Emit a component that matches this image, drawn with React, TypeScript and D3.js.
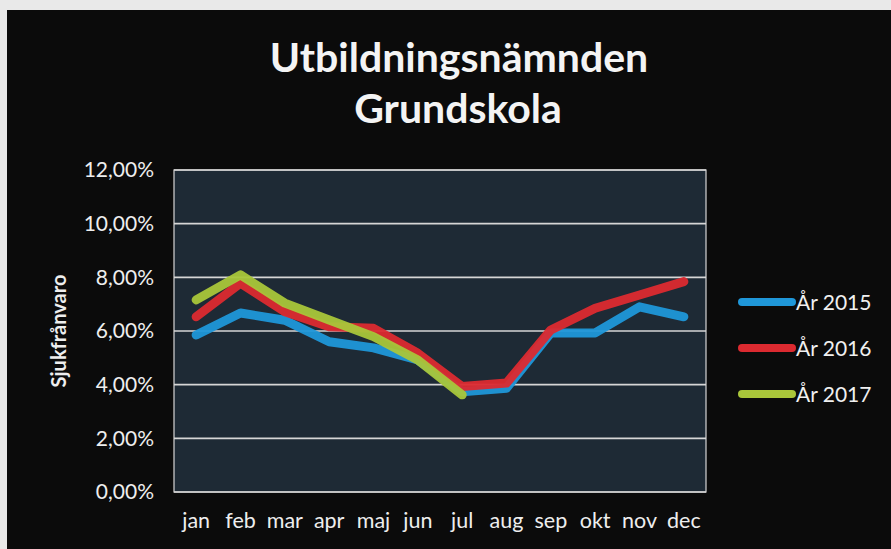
import React, { useEffect, useRef } from "react";
import * as d3 from "d3";

const months = ["jan", "feb", "mar", "apr", "maj", "jun", "jul", "aug", "sep", "okt", "nov", "dec"];
const yTicks = [0, 0.02, 0.04, 0.06, 0.08, 0.1, 0.12];
const seriesNames = ["År 2015", "År 2016", "År 2017"];
const seriesColors = ["#1f97d9", "#dc2a30", "#a9c63a"];
const values2015 = [0.0585, 0.0667, 0.064, 0.056, 0.0537, 0.0492, 0.0374, 0.0387, 0.0593, 0.0593, 0.069, 0.0653];
const values2016 = [0.0653, 0.0778, 0.0672, 0.0616, 0.061, 0.0517, 0.0393, 0.0406, 0.0604, 0.0685, 0.0734, 0.0784];
const values2017 = [0.0716, 0.0809, 0.0704, 0.0641, 0.0579, 0.0492, 0.0362];

export default function App() {
  const ref = useRef<SVGSVGElement>(null);

  useEffect(() => {
    const svg = d3.select(ref.current);
    svg.selectAll("*").remove();

    const W = 891;
    const H = 549;
    const margin = { left: 174, right: 185, top: 170, bottom: 57 };
    const width = W - margin.left - margin.right;
    const height = H - margin.top - margin.bottom;
    const font = "Lato, 'Open Sans', sans-serif";

    // page + black chart card
    svg.append("rect").attr("width", W).attr("height", H).attr("fill", "#e9e9e9");
    svg.append("rect").attr("x", 7).attr("y", 10).attr("width", W - 7).attr("height", H - 10).attr("fill", "#0b0b0b");

    svg
      .append("text")
      .attr("x", 459)
      .attr("y", 72)
      .attr("text-anchor", "middle")
      .attr("font-family", font)
      .attr("font-weight", "bold")
      .attr("font-size", "41px")
      .attr("fill", "#f4f4f4")
      .text("Utbildningsnämnden");
    svg
      .append("text")
      .attr("x", 458)
      .attr("y", 123)
      .attr("text-anchor", "middle")
      .attr("font-family", font)
      .attr("font-weight", "bold")
      .attr("font-size", "41px")
      .attr("fill", "#f4f4f4")
      .text("Grundskola");

    const g = svg.append("g").attr("transform", `translate(${margin.left},${margin.top})`);

    const x = d3.scaleBand().domain(months).range([0, width]);
    const y = d3.scaleLinear().domain([0, 0.12]).range([height, 0]);

    g.append("rect").attr("width", width).attr("height", height).attr("fill", "#1e2a35");

    g.selectAll(".grid")
      .data(yTicks)
      .enter()
      .append("line")
      .attr("class", "grid")
      .attr("x1", 0)
      .attr("x2", width)
      .attr("y1", d => y(d))
      .attr("y2", d => y(d))
      .attr("stroke", "#d6d6d6")
      .attr("stroke-width", 1.6);

    g.append("rect")
      .attr("width", width)
      .attr("height", height)
      .attr("fill", "none")
      .attr("stroke", "#d6d6d6")
      .attr("stroke-width", 1.2);

    const fmt = (d: number) => (d * 100).toFixed(2).replace(".", ",") + "%";
    const yAxis = g
      .append("g")
      .call(d3.axisLeft(y).tickValues(yTicks).tickFormat(d => fmt(+d)).tickSize(0).tickPadding(20));
    yAxis.select(".domain").remove();
    yAxis.selectAll("text").attr("font-family", font).attr("font-size", "21px").attr("fill", "#eeeeee");

    const xAxis = g
      .append("g")
      .attr("transform", `translate(0,${height})`)
      .call(d3.axisBottom(x).tickSize(0).tickPadding(21));
    xAxis.select(".domain").remove();
    xAxis.selectAll("text").attr("font-family", font).attr("font-size", "21.5px").attr("fill", "#eeeeee");

    svg
      .append("text")
      .attr("transform", `translate(66,${margin.top + height / 2}) rotate(-90)`)
      .attr("text-anchor", "middle")
      .attr("font-family", font)
      .attr("font-weight", "bold")
      .attr("font-size", "20px")
      .attr("fill", "#eeeeee")
      .text("Sjukfrånvaro");

    const line = d3
      .line<number>()
      .x((d, i) => (x(months[i]) as number) + x.bandwidth() / 2)
      .y(d => y(d));

    [values2015, values2016, values2017].forEach((vals, i) => {
      g.append("path")
        .datum(vals)
        .attr("d", line)
        .attr("fill", "none")
        .attr("stroke", seriesColors[i])
        .attr("stroke-width", 9)
        .attr("stroke-linecap", "round")
        .attr("stroke-linejoin", "round")
        .attr("opacity", 0.95);
    });

    const legend = svg.append("g").attr("transform", "translate(742,302)");
    seriesNames.forEach((name, i) => {
      const row = legend.append("g").attr("transform", `translate(0,${i * 46})`);
      row
        .append("line")
        .attr("x1", 0)
        .attr("x2", 50)
        .attr("stroke", seriesColors[i])
        .attr("stroke-width", 8)
        .attr("stroke-linecap", "round");
      row
        .append("text")
        .attr("x", 54)
        .attr("y", 8)
        .attr("font-family", font)
        .attr("font-size", "21px")
        .attr("fill", "#f0f0f0")
        .text(name);
    });
  }, []);

  return (
    <svg
      ref={ref}
      width={891}
      height={549}
      style={{ position: "absolute", left: 0, top: 0, display: "block" }}
    />
  );
}
